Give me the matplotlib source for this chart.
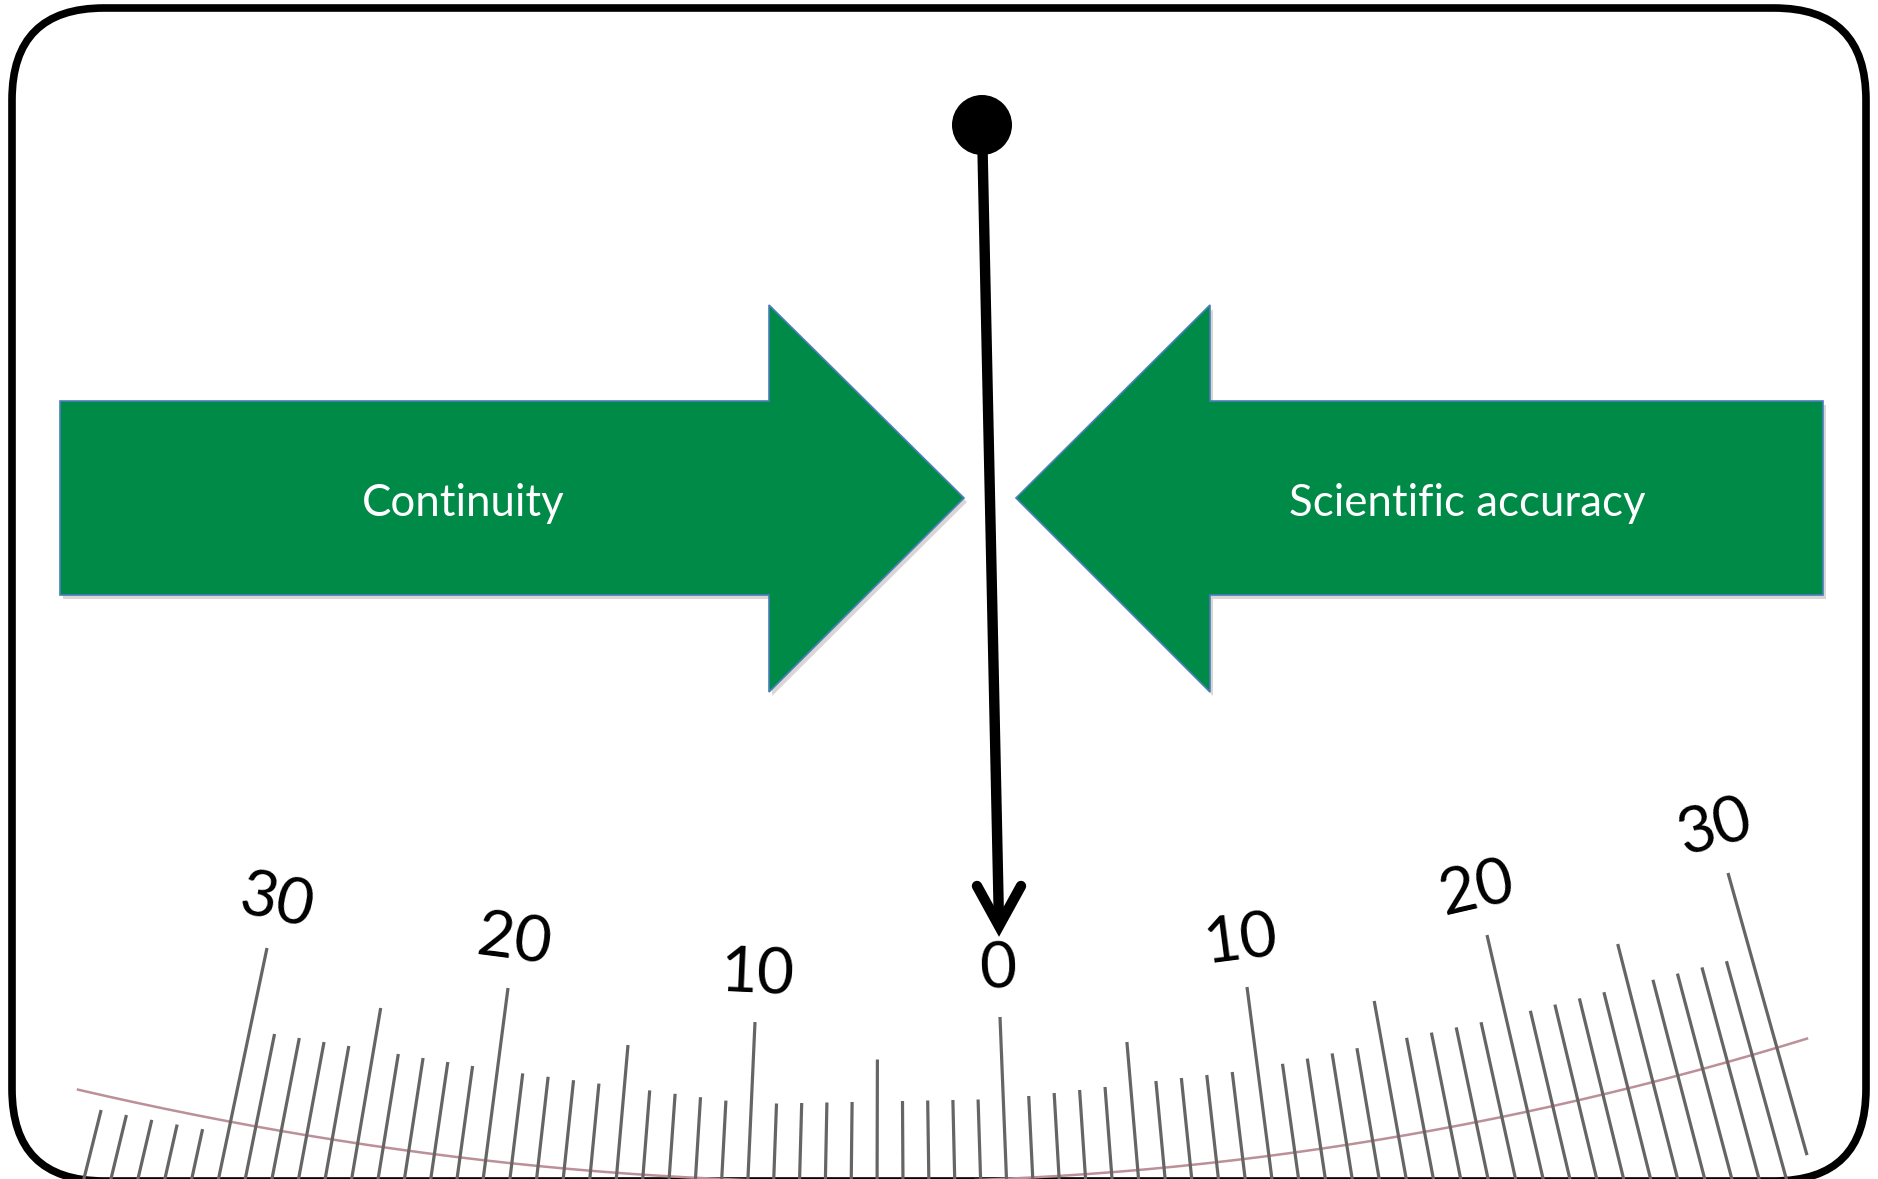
import numpy as np
import matplotlib.pyplot as plt
from matplotlib.patches import FancyBboxPatch, Polygon, Circle

# scale readings
tick_values = np.arange(-36, 37)
label_values = [-30, -20, -10, 0, 10, 20, 30]
label_texts = [str(abs(v)) for v in label_values]
arrow_labels = ["Continuity", "Scientific accuracy"]

# geometry of the major ticks (pixel units)
anchor_v = np.array([-40, -30, -20, -10, 0, 10, 20, 30, 40])
anchor_x = np.array([27, 267, 508, 755, 1000, 1247, 1487, 1728, 1968])
anchor_y = np.array([905, 948, 988, 1022, 1017, 987, 935, 873, 805])
anchor_s = np.array([-0.29, -0.21, -0.13, -0.045, 0.04, 0.13, 0.23, 0.28, 0.33])

pink_x = np.array([80, 232, 360, 560, 1060, 1440, 1607, 1807])
pink_y = np.array([1090, 1120, 1147, 1168, 1173, 1132, 1093, 1038])

W, H = 1878, 1179
fig = plt.figure(figsize=(W / 100, H / 100), dpi=100)
ax = fig.add_axes([0, 0, 1, 1])
ax.set_xlim(0, W)
ax.set_ylim(H, 0)
ax.axis('off')

green = '#008A47'
edge = '#4A7EBB'

frame = FancyBboxPatch((12, 8), 1854, 1173, boxstyle="round,pad=0,rounding_size=92",
                       facecolor='white', edgecolor='black', linewidth=5.5, zorder=1)
ax.add_patch(frame)

# scale
pk = np.polyfit(pink_x, pink_y, 3)
px = np.linspace(78, 1807, 300)
ax.plot(px, np.polyval(pk, px), color='#BC9098', lw=1.8, zorder=2,
        clip_path=frame)

x_left, x_right = 78, 1807
for v in tick_values:
    xr = np.interp(v, anchor_v, anchor_x)
    yr = np.interp(v, anchor_v, anchor_y)
    s = np.interp(v, anchor_v, anchor_s)
    if abs(v) > 30:
        yt = np.polyval(pk, xr) + 5
    elif v % 10 == 0:
        yt = yr
    elif v % 5 == 0:
        yt = yr + 40
    else:
        yt = yr + 82
    xt = xr + s * (yt - yr)
    yb = 1200
    xb = xt + s * (yb - yt)
    if xb < x_left:
        yb = yt + (x_left - xt) / s
        xb = x_left
    if xb > x_right:
        yb = yt + (x_right - xt) / s
        xb = x_right
    if xt < x_left or xt > x_right:
        continue
    ax.plot([xt, xb], [yt, yb], color='#656565', lw=2.3, solid_capstyle='butt',
            zorder=3, clip_path=frame)

for v, t in zip(label_values, label_texts):
    xr = np.interp(v, anchor_v, anchor_x)
    yr = np.interp(v, anchor_v, anchor_y)
    s = np.interp(v, anchor_v, anchor_s)
    d = np.hypot(s, 1)
    lx = xr - s * 47 / d
    ly = yr - 47 / d
    ax.text(lx, ly, t, fontsize=46, family=['Lato', 'DejaVu Sans'], color='black',
            ha='center', va='center', rotation=np.degrees(np.arctan(s)),
            rotation_mode='anchor', zorder=4)

# arrows
left_arrow = [(60, 401), (769, 401), (769, 305), (964, 498), (769, 692), (769, 595), (60, 595)]
right_arrow = [(1823, 401), (1210, 401), (1210, 305), (1016, 498), (1210, 692), (1210, 595), (1823, 595)]
for pts in (left_arrow, right_arrow):
    sh = [(x + 3, y + 4) for x, y in pts]
    ax.add_patch(Polygon(sh, closed=True, facecolor='#9a8a8a', edgecolor='none',
                         alpha=0.35, zorder=5))
    ax.add_patch(Polygon(pts, closed=True, facecolor=green, edgecolor=edge,
                         linewidth=1.2, zorder=6))

ax.text(463, 504, arrow_labels[0], fontsize=31.5, family=['Lato', 'DejaVu Sans'],
        color='white', ha='center', va='center', zorder=7)
ax.text(1467, 504, arrow_labels[1], fontsize=31.5, family=['Lato', 'DejaVu Sans'],
        color='white', ha='center', va='center', zorder=7)

# pendulum
ax.plot([982, 999], [125, 924], color='black', lw=7.5, solid_capstyle='butt', zorder=8)
ax.plot([977, 999, 1021], [886, 926, 886], color='black', lw=7.5,
        solid_capstyle='round', solid_joinstyle='miter', zorder=8)
ax.add_patch(Circle((982, 125), 30, facecolor='black', edgecolor='none', zorder=9))

fig.savefig('out.png', dpi=100)
